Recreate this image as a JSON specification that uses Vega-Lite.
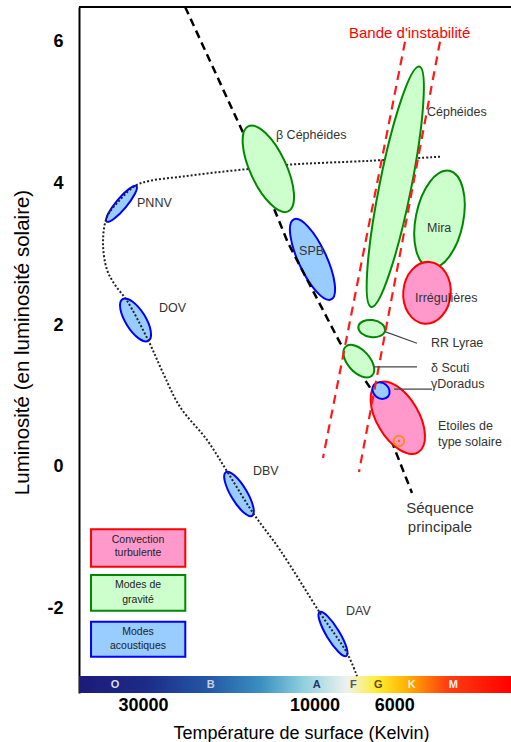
{
  "$schema": "https://vega.github.io/schema/vega-lite/v6.json",
  "width": 432,
  "height": 686,
  "autosize": {"type": "none"},
  "padding": {"left": 79, "top": 7, "right": 0, "bottom": 49},
  "background": "white",
  "config": {"view": {"stroke": null}},
  "datasets": {
    "ellipses": [
      {"name": "PNNV", "type": "acoustique", "T": 34420, "L": 3.713},
      {"name": "DOV", "type": "acoustique", "T": 31470, "L": 2.075},
      {"name": "DBV", "type": "acoustique", "T": 16220, "L": -0.381},
      {"name": "DAV", "type": "acoustique", "T": 8880, "L": -2.358},
      {"name": "SPB", "type": "acoustique", "T": 10130, "L": 2.929},
      {"name": "β Céphéides", "type": "gravité", "T": 13440, "L": 4.207},
      {"name": "Céphéides", "type": "gravité", "T": 5960, "L": 3.953},
      {"name": "Mira", "type": "gravité", "T": 4490, "L": 3.494},
      {"name": "Irrégulières", "type": "convection", "T": 4865, "L": 2.457},
      {"name": "RR Lyrae", "type": "gravité", "T": 6930, "L": 1.953},
      {"name": "δ Scuti", "type": "gravité", "T": 7530, "L": 1.492},
      {"name": "Etoiles de type solaire", "type": "convection", "T": 5865, "L": 0.695},
      {"name": "γ Doradus", "type": "acoustique", "T": 6530, "L": 1.077}
    ],
    "ms": [
      {"i": 0, "T": 22900, "L": 6.49},
      {"i": 1, "T": 15800, "L": 4.715},
      {"i": 2, "T": 11850, "L": 3.162},
      {"i": 3, "T": 8490, "L": 1.751},
      {"i": 4, "T": 6790, "L": 1.016},
      {"i": 5, "T": 5970, "L": 0.24},
      {"i": 6, "T": 5355, "L": -0.367}
    ],
    "track": [
      {"i": 0, "T": 4476, "L": 4.377},
      {"i": 1, "T": 7008, "L": 4.32},
      {"i": 2, "T": 11850, "L": 4.264},
      {"i": 3, "T": 15120, "L": 4.207},
      {"i": 4, "T": 19160, "L": 4.151},
      {"i": 5, "T": 23660, "L": 4.094},
      {"i": 6, "T": 28680, "L": 4.038},
      {"i": 7, "T": 31570, "L": 3.967},
      {"i": 8, "T": 34750, "L": 3.77},
      {"i": 9, "T": 37770, "L": 3.53},
      {"i": 10, "T": 38750, "L": 3.162},
      {"i": 11, "T": 37770, "L": 2.781},
      {"i": 12, "T": 35890, "L": 2.569},
      {"i": 13, "T": 33230, "L": 2.344},
      {"i": 14, "T": 29050, "L": 1.793},
      {"i": 15, "T": 26390, "L": 1.327},
      {"i": 16, "T": 23660, "L": 0.847},
      {"i": 17, "T": 19910, "L": 0.381},
      {"i": 18, "T": 17400, "L": -0.085},
      {"i": 19, "T": 14830, "L": -0.649},
      {"i": 20, "T": 12470, "L": -1.172},
      {"i": 21, "T": 9650, "L": -2.061},
      {"i": 22, "T": 8120, "L": -2.626},
      {"i": 23, "T": 7616, "L": -2.951}
    ],
    "strip": [
      {"T": 5600, "L": 6.0, "T2": 9470, "L2": 0.127},
      {"T": 4476, "L": 6.0, "T2": 7520, "L2": -0.071}
    ],
    "connectors": [
      {"T": 6367, "L": 1.91, "T2": 5187, "L2": 1.746},
      {"T": 6831, "L": 1.412, "T2": 5187, "L2": 1.412},
      {"T": 6009, "L": 1.097, "T2": 4711, "L2": 1.097}
    ],
    "frame": [{"T": 45200, "L": 6.49, "T2": 2840, "L2": 6.49}],
    "labels": [
      {"text": "β Céphéides", "T": 12800, "L": 4.687},
      {"text": "PNNV", "T": 31170, "L": 3.727},
      {"text": "SPB", "T": 11040, "L": 3.049},
      {"text": "DOV", "T": 27070, "L": 2.245},
      {"text": "DBV", "T": 14830, "L": -0.056},
      {"text": "DAV", "T": 8174, "L": -2.033},
      {"text": "Céphéides", "T": 4865, "L": 5.012},
      {"text": "Mira", "T": 4865, "L": 3.374},
      {"text": "Irrégulières", "T": 5253, "L": 2.386},
      {"text": "RR Lyrae", "T": 4742, "L": 1.751},
      {"text": "δ Scuti", "T": 4742, "L": 1.398},
      {"text": "γDoradus", "T": 4742, "L": 1.172},
      {"text": "Etoiles de", "T": 4535, "L": 0.579},
      {"text": "type solaire", "T": 4535, "L": 0.353}
    ],
    "seq": [
      {"text": "Séquence", "T": 4476, "L": -0.579},
      {"text": "principale", "T": 4476, "L": -0.847}
    ],
    "bande": [{"text": "Bande d'instabilité", "T": 8017, "L": 6.127}],
    "legendBoxes": [
      {"type": "convection", "T": 41850, "T2": 22880, "L": -0.878, "L2": -1.41},
      {"type": "gravité", "T": 41850, "T2": 22880, "L": -1.525, "L2": -2.029},
      {"type": "acoustique", "T": 41850, "T2": 22880, "L": -2.184, "L2": -2.678}
    ],
    "legendText": [
      {"text": "Convection", "T": 30970, "L": -1.031},
      {"text": "turbulente", "T": 30970, "L": -1.214},
      {"text": "Modes de", "T": 30970, "L": -1.666},
      {"text": "gravité", "T": 30970, "L": -1.878},
      {"text": "Modes", "T": 30970, "L": -2.329},
      {"text": "acoustiques", "T": 30970, "L": -2.527}
    ],
    "bar": [{"T": 45200, "T2": 2840, "L": -2.951, "L2": -3.19}],
    "letters": [
      {"letter": "O", "T": 35890, "L": -3.078},
      {"letter": "B", "T": 19440, "L": -3.078},
      {"letter": "A", "T": 9860, "L": -3.078},
      {"letter": "F", "T": 7800, "L": -3.078},
      {"letter": "G", "T": 6645, "L": -3.078},
      {"letter": "K", "T": 5365, "L": -3.078},
      {"letter": "M", "T": 4110, "L": -3.078}
    ],
    "sun": [{"T": 5820, "L": 0.367}]
  },
  "encoding": {
    "x": {
      "field": "T",
      "type": "quantitative",
      "scale": {"type": "log", "domain": [2840, 45200], "reverse": true, "nice": false},
      "axis": {
        "values": [30000, 10000, 6000],
        "format": "d",
        "title": "Température de surface (Kelvin)",
        "domain": false,
        "ticks": false,
        "grid": false,
        "labelFlush": false,
        "labelFont": "Liberation Sans",
        "labelFontSize": 18,
        "labelFontWeight": "bold",
        "labelColor": "#000000",
        "labelPadding": 3,
        "titleFont": "Liberation Sans",
        "titleFontSize": 18,
        "titleFontWeight": "normal",
        "titleColor": "#000000",
        "titleX": 222,
        "titleY": 45,
        "titleAlign": "center",
        "titleBaseline": "alphabetic"
      }
    },
    "y": {
      "field": "L",
      "type": "quantitative",
      "scale": {"domain": [-3.19, 6.49], "nice": false, "zero": false},
      "axis": {
        "values": [-2, 0, 2, 4, 6],
        "labelExpr": "'' + datum.value",
        "title": "Luminosité (en luminosité solaire)",
        "domain": true,
        "domainColor": "#000000",
        "domainWidth": 2,
        "ticks": false,
        "grid": false,
        "labelFont": "Liberation Sans",
        "labelFontSize": 18,
        "labelFontWeight": "bold",
        "labelColor": "#000000",
        "labelPadding": 16,
        "titleFont": "Liberation Sans",
        "titleFontSize": 20.5,
        "titleFontWeight": "normal",
        "titleColor": "#000000",
        "titleAngle": -90,
        "titleX": -57,
        "titleY": 335,
        "titleAlign": "center",
        "titleBaseline": "middle"
      }
    }
  },
  "layer": [
    {
      "data": {"name": "bar"},
      "mark": {
        "type": "rect",
        "fill": {
          "gradient": "linear",
          "x1": 0, "y1": 0, "x2": 1, "y2": 0,
          "stops": [
            {"offset": 0, "color": "#1b1b7a"},
            {"offset": 0.15, "color": "#1d2a88"},
            {"offset": 0.3, "color": "#2458a6"},
            {"offset": 0.42, "color": "#3a8fc0"},
            {"offset": 0.52, "color": "#90d0e0"},
            {"offset": 0.62, "color": "#eef2ee"},
            {"offset": 0.69, "color": "#ffee30"},
            {"offset": 0.76, "color": "#ffb000"},
            {"offset": 0.85, "color": "#ff4010"},
            {"offset": 1, "color": "#ff0000"}
          ]
        }
      },
      "encoding": {"x2": {"field": "T2"}, "y2": {"field": "L2"}}
    },
    {
      "data": {"name": "letters"},
      "mark": {"type": "text", "font": "Liberation Sans", "fontSize": 11, "fontWeight": "bold", "align": "center", "baseline": "middle"},
      "encoding": {
        "text": {"field": "letter"},
        "color": {
          "field": "letter",
          "type": "nominal",
          "legend": null,
          "scale": {
            "domain": ["O", "B", "A", "F", "G", "K", "M"],
            "range": ["#dddddd", "#ccccdd", "#223366", "#555555", "#664400", "#ffeedd", "#ffeeee"]
          }
        }
      }
    },
    {
      "data": {"name": "frame"},
      "mark": {"type": "rule", "color": "#000000", "strokeWidth": 2},
      "encoding": {"x2": {"field": "T2"}, "y2": {"field": "L2"}}
    },
    {
      "data": {"name": "ellipses"},
      "transform": [{"filter": {"field": "name", "oneOf": ["PNNV", "DOV", "DBV", "DAV", "SPB"]}}],
      "mark": {"type": "point", "filled": true, "size": 4, "strokeWidth": 2, "opacity": 1},
      "encoding": {
        "shape": {
          "field": "name", "type": "nominal", "legend": null,
          "scale": {
            "domain": ["PNNV", "DOV", "DBV", "DAV", "SPB", "β Céphéides", "Céphéides", "Mira", "Irrégulières", "RR Lyrae", "δ Scuti", "γ Doradus", "Etoiles de type solaire"],
            "range": [
              "M 14.91 -17.77 A 23.2 5.5 -50 0 1 -14.91 17.77 A 23.2 5.5 -50 0 1 14.91 -17.77 Z",
              "M 12.98 20.78 A 24.5 10 58 0 1 -12.98 -20.78 A 24.5 10 58 0 1 12.98 20.78 Z",
              "M 13.13 21.86 A 25.5 8 59 0 1 -13.13 -21.86 A 25.5 8 59 0 1 13.13 21.86 Z",
              "M 13.39 21.94 A 25.7 6.5 58.6 0 1 -13.39 -21.94 A 25.7 6.5 58.6 0 1 13.39 21.94 Z",
              "M 18.68 40.06 A 44.2 14 65 0 1 -18.68 -40.06 A 44.2 14 65 0 1 18.68 40.06 Z",
              "M 19.86 42.6 A 47 18 65 0 1 -19.86 -42.6 A 47 18 65 0 1 19.86 42.6 Z",
              "M 24.02 -120.22 A 122.6 16 -78.7 0 1 -24.02 120.22 A 122.6 16 -78.7 0 1 24.02 -120.22 Z",
              "M 9.79 -48.52 A 49.5 24 -78.6 0 1 -9.79 48.52 A 49.5 24 -78.6 0 1 9.79 -48.52 Z",
              "M 2.7 -30.88 A 31 24 -85 0 1 -2.7 30.88 A 31 24 -85 0 1 2.7 -30.88 Z",
              "M 13.37 1.88 A 13.5 8.5 8 0 1 -13.37 -1.88 A 13.5 8.5 8 0 1 13.37 1.88 Z",
              "M 13.11 14.57 A 19.6 11 48 0 1 -13.11 -14.57 A 19.6 11 48 0 1 13.11 14.57 Z",
              "M 7.05 5.91 A 9.2 7.8 40 0 1 -7.05 -5.91 A 9.2 7.8 40 0 1 7.05 5.91 Z",
              "M 20.29 34.59 A 40.1 21 59.6 0 1 -20.29 -34.59 A 40.1 21 59.6 0 1 20.29 34.59 Z"
            ]
          }
        },
        "fill": {
          "field": "type", "type": "nominal", "legend": null,
          "scale": {"domain": ["convection", "gravité", "acoustique"], "range": ["#ff99cc", "#ccffcc", "#99ccff"]}
        },
        "stroke": {
          "field": "type", "type": "nominal", "legend": null,
          "scale": {"domain": ["convection", "gravité", "acoustique"], "range": ["#ff0000", "#008800", "#0000ff"]}
        }
      }
    },
    {
      "data": {"name": "ms"},
      "mark": {"type": "line", "color": "#000000", "strokeWidth": 2.5, "strokeDash": [8, 5]},
      "encoding": {"order": {"field": "i", "type": "quantitative"}}
    },
    {
      "data": {"name": "track"},
      "mark": {"type": "line", "color": "#222222", "strokeWidth": 2, "strokeDash": [2, 2], "interpolate": "catmull-rom"},
      "encoding": {"order": {"field": "i", "type": "quantitative"}}
    },
    {
      "data": {"name": "ellipses"},
      "transform": [{"filter": {"not": {"field": "name", "oneOf": ["PNNV", "DOV", "DBV", "DAV", "SPB"]}}}],
      "mark": {"type": "point", "filled": true, "size": 4, "strokeWidth": 2, "opacity": 1},
      "encoding": {
        "shape": {
          "field": "name", "type": "nominal", "legend": null,
          "scale": {
            "domain": ["PNNV", "DOV", "DBV", "DAV", "SPB", "β Céphéides", "Céphéides", "Mira", "Irrégulières", "RR Lyrae", "δ Scuti", "γ Doradus", "Etoiles de type solaire"],
            "range": [
              "M 14.91 -17.77 A 23.2 5.5 -50 0 1 -14.91 17.77 A 23.2 5.5 -50 0 1 14.91 -17.77 Z",
              "M 12.98 20.78 A 24.5 10 58 0 1 -12.98 -20.78 A 24.5 10 58 0 1 12.98 20.78 Z",
              "M 13.13 21.86 A 25.5 8 59 0 1 -13.13 -21.86 A 25.5 8 59 0 1 13.13 21.86 Z",
              "M 13.39 21.94 A 25.7 6.5 58.6 0 1 -13.39 -21.94 A 25.7 6.5 58.6 0 1 13.39 21.94 Z",
              "M 18.68 40.06 A 44.2 14 65 0 1 -18.68 -40.06 A 44.2 14 65 0 1 18.68 40.06 Z",
              "M 19.86 42.6 A 47 18 65 0 1 -19.86 -42.6 A 47 18 65 0 1 19.86 42.6 Z",
              "M 24.02 -120.22 A 122.6 16 -78.7 0 1 -24.02 120.22 A 122.6 16 -78.7 0 1 24.02 -120.22 Z",
              "M 9.79 -48.52 A 49.5 24 -78.6 0 1 -9.79 48.52 A 49.5 24 -78.6 0 1 9.79 -48.52 Z",
              "M 2.7 -30.88 A 31 24 -85 0 1 -2.7 30.88 A 31 24 -85 0 1 2.7 -30.88 Z",
              "M 13.37 1.88 A 13.5 8.5 8 0 1 -13.37 -1.88 A 13.5 8.5 8 0 1 13.37 1.88 Z",
              "M 13.11 14.57 A 19.6 11 48 0 1 -13.11 -14.57 A 19.6 11 48 0 1 13.11 14.57 Z",
              "M 7.05 5.91 A 9.2 7.8 40 0 1 -7.05 -5.91 A 9.2 7.8 40 0 1 7.05 5.91 Z",
              "M 20.29 34.59 A 40.1 21 59.6 0 1 -20.29 -34.59 A 40.1 21 59.6 0 1 20.29 34.59 Z"
            ]
          }
        },
        "fill": {
          "field": "type", "type": "nominal", "legend": null,
          "scale": {"domain": ["convection", "gravité", "acoustique"], "range": ["#ff99cc", "#ccffcc", "#99ccff"]}
        },
        "stroke": {
          "field": "type", "type": "nominal", "legend": null,
          "scale": {"domain": ["convection", "gravité", "acoustique"], "range": ["#ff0000", "#008800", "#0000ff"]}
        }
      }
    },
    {
      "data": {"name": "strip"},
      "mark": {"type": "rule", "color": "#ff1a1a", "strokeWidth": 2.2, "strokeDash": [9, 6]},
      "encoding": {"x2": {"field": "T2"}, "y2": {"field": "L2"}}
    },
    {
      "data": {"name": "connectors"},
      "mark": {"type": "rule", "color": "#444444", "strokeWidth": 1.2},
      "encoding": {"x2": {"field": "T2"}, "y2": {"field": "L2"}}
    },
    {
      "data": {"name": "sun"},
      "mark": {"type": "point", "shape": "circle", "size": 110, "filled": false, "color": "#ff8800", "strokeWidth": 1.6, "opacity": 1}
    },
    {
      "data": {"name": "sun"},
      "mark": {"type": "point", "shape": "circle", "size": 6, "filled": true, "color": "#ff6600", "opacity": 1}
    },
    {
      "data": {"name": "legendBoxes"},
      "mark": {"type": "rect", "strokeWidth": 2, "opacity": 1},
      "encoding": {
        "x2": {"field": "T2"},
        "y2": {"field": "L2"},
        "fill": {
          "field": "type", "type": "nominal", "legend": null,
          "scale": {"domain": ["convection", "gravité", "acoustique"], "range": ["#ff99cc", "#ccffcc", "#99ccff"]}
        },
        "stroke": {
          "field": "type", "type": "nominal", "legend": null,
          "scale": {"domain": ["convection", "gravité", "acoustique"], "range": ["#ff0000", "#008800", "#0000ff"]}
        }
      }
    },
    {
      "data": {"name": "legendText"},
      "mark": {"type": "text", "font": "Liberation Sans", "fontSize": 10.5, "color": "#222222", "align": "center", "baseline": "middle"},
      "encoding": {"text": {"field": "text"}}
    },
    {
      "data": {"name": "labels"},
      "mark": {"type": "text", "font": "Liberation Sans", "fontSize": 12.5, "color": "#333333", "align": "left", "baseline": "middle"},
      "encoding": {"text": {"field": "text"}}
    },
    {
      "data": {"name": "seq"},
      "mark": {"type": "text", "font": "Liberation Sans", "fontSize": 15, "color": "#333333", "align": "center", "baseline": "middle"},
      "encoding": {"text": {"field": "text"}}
    },
    {
      "data": {"name": "bande"},
      "mark": {"type": "text", "font": "Liberation Sans", "fontSize": 15, "color": "#ff0000", "align": "left", "baseline": "middle"},
      "encoding": {"text": {"field": "text"}}
    }
  ]
}
